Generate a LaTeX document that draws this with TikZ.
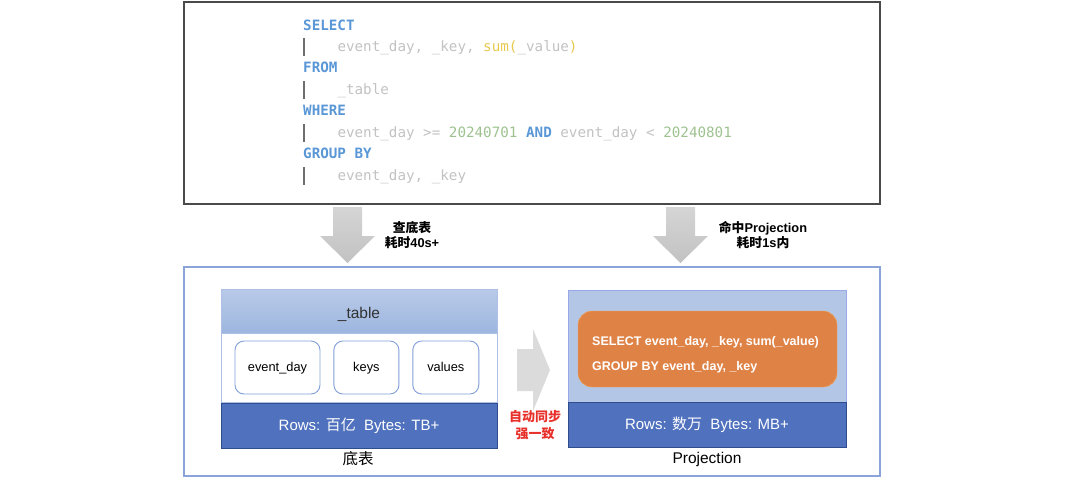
\documentclass[tikz,border=0pt]{standalone}
\usepackage{fontspec}
\setmainfont{Liberation Sans}
\newfontfamily\cjk{Noto Sans CJK SC}
\newfontfamily\codefont{DejaVu Sans Mono}
\usetikzlibrary{positioning}

\definecolor{kwblue}{HTML}{5A97D6}
\definecolor{codegray}{HTML}{C2C2C2}
\definecolor{fnyellow}{HTML}{E8C94F}
\definecolor{numgreen}{HTML}{9DC28F}
\definecolor{bargray}{HTML}{6E6E6E}
\definecolor{framegray}{HTML}{4A4A4A}
\definecolor{frameblue}{HTML}{8BA5DA}
\definecolor{headtop}{HTML}{B9CAE8}
\definecolor{headbot}{HTML}{9DB6DF}
\definecolor{statblue}{HTML}{4F71BE}
\definecolor{statedge}{HTML}{2F4D8C}
\definecolor{cellblue}{HTML}{819FD8}
\definecolor{projbg}{HTML}{B4C6E6}
\definecolor{projorange}{HTML}{DF8245}
\definecolor{orangeedge}{HTML}{F2A24E}
\definecolor{syncred}{HTML}{E8302A}

\newcommand{\zh}[1]{{\cjk #1}}
\newcommand{\kw}[1]{\textcolor{kwblue}{\bfseries #1}}
\newcommand{\cg}[1]{\textcolor{codegray}{#1}}

\tikzset{
  pics/downarrow/.style={code={
    \shade[top color=gray!33, bottom color=gray!48]
      (-14.5,0) -- (14.5,0) -- (14.5,29) -- (27.5,29) -- (0,56)
      -- (-27.5,29) -- (-14.5,29) -- cycle;}},
  pics/syncarrow/.style={code={
    \fill[gray!28]
      (0,-21) -- (16,-21) -- (16,-41) -- (33,0) -- (16,41)
      -- (16,21) -- (0,21) -- cycle;}}
}

\begin{document}
\begin{tikzpicture}[x=1pt,y=-1pt,
    codeline/.style={anchor=base west,inner sep=0pt,font=\codefont\fontsize{14.24}{17}\selectfont},
    codebar/.style={draw=bargray,line width=2pt},
    frame/.style={draw=#1,line width=1.2pt,inner sep=0pt},
    tablehead/.style={draw=frameblue!70,top color=headtop,bottom color=headbot,minimum width=276pt,
      minimum height=44pt,inner sep=0pt,text height=14pt,text depth=0pt,
      font=\fontsize{15.5}{18}\selectfont,text=black!80},
    tablebody/.style={draw=frameblue!70,fill=white,minimum width=276pt,minimum height=69pt,inner sep=0pt},
    statbar/.style={draw=statedge,line width=0.9pt,fill=statblue,minimum width=#1,minimum height=45pt,
      inner sep=0pt,text=white,font=\fontsize{15}{18}\selectfont},
    cell/.style={draw=cellblue,line width=0.9pt,fill=white,rounded corners=9pt,minimum width=#1,
      minimum height=53pt,inner sep=0pt,text height=10pt,text depth=3pt,font=\fontsize{12.8}{15}\selectfont},
    sqltext/.style={anchor=base west,inner sep=0pt,text=white,font=\bfseries\fontsize{12.5}{15}\selectfont},
    arrowlabel/.style={align=center,inner sep=0pt,font=\bfseries\fontsize{12.8}{15}\selectfont},
    caption/.style={inner sep=0pt,font=\fontsize{15.5}{18}\selectfont}]

  \useasboundingbox (0,0) rectangle (1080,483);

  % query
  \node[frame=framegray,minimum width=696pt,minimum height=202pt] (query) at (532,103) {};
  \node[codeline] (sel)      at (303,30)    {\kw{SELECT}};
  \node[codeline] (selargs)  at (337.3,51.4) {\cg{event\_day, \_key, }\textcolor{fnyellow}{sum(}\cg{\_value}\textcolor{fnyellow}{)}};
  \node[codeline] (from)     at (303,72.9)  {\kw{FROM}};
  \node[codeline] (fromargs) at (337.3,94.3) {\cg{\_table}};
  \node[codeline] (where)    at (303,115.8) {\kw{WHERE}};
  \node[codeline] (whereargs) at (337.3,137.2) {\cg{event\_day >= }\textcolor{numgreen}{20240701} \kw{AND} \cg{event\_day < }\textcolor{numgreen}{20240801}};
  \node[codeline] (group)    at (303,158.7) {\kw{GROUP BY}};
  \node[codeline] (groupargs) at (337.3,180.1) {\cg{event\_day, \_key}};
  \foreach \y in {51.4,94.3,137.2,180.1}
    \draw[codebar] (304,\y-13) -- (304,\y+4.5);

  % arrows down
  \pic at (347.5,207) {downarrow};
  \pic at (680.5,207) {downarrow};
  \node[arrowlabel] (scanlabel) at (412,235.5) {\zh{查底表}\\\zh{耗时}40s+};
  \node[arrowlabel] (hitlabel)  at (763,235.5) {\zh{命中}Projection\\\zh{耗时}1s\zh{内}};

  % storage
  \node[frame=frameblue,minimum width=696pt,minimum height=209pt] (panel) at (532,371.5) {};

  \node[tablehead] (head) at (359,311) {\_table};
  \node[tablebody,below=0pt of head] (body) {};
  \node[statbar=276pt,below=0pt of body] (basestat) {Rows: \zh{百亿}\hspace{0.55em}Bytes: TB+};
  \node[cell=85pt] (cday) at (277.5,367.5) {event\_day};
  \node[cell=65pt,right=13pt of cday] (ckeys) {keys};
  \node[cell=66pt,right=13pt of ckeys] (cvalues) {values};
  \node[caption] (basecap) at (358,459) {\zh{底表}};

  \pic at (517,370) {syncarrow};
  \node[arrowlabel,text=syncred,font=\bfseries\fontsize{13}{17}\selectfont] (synclabel) at (535,425) {\zh{自动同步}\\\zh{强一致}};

  \node[draw=projbg!85!blue,fill=projbg,minimum width=278pt,minimum height=112pt,inner sep=0pt] (projbox) at (707,346) {};
  \node[draw=orangeedge,fill=projorange,rounded corners=14pt,minimum width=259pt,minimum height=76pt,inner sep=0pt] (sqlbox) at (707.5,349) {};
  \node[sqltext] (sqlsel)   at (592,345) {SELECT event\_day, \_key, sum(\_value)};
  \node[sqltext] (sqlgroup) at (592,370) {GROUP BY event\_day, \_key};
  \node[statbar=278pt,below=0pt of projbox] (projstat) {Rows: \zh{数万}\hspace{0.55em}Bytes: MB+};
  \node[caption] (projcap) at (707,459) {Projection};
\end{tikzpicture}
\end{document}
